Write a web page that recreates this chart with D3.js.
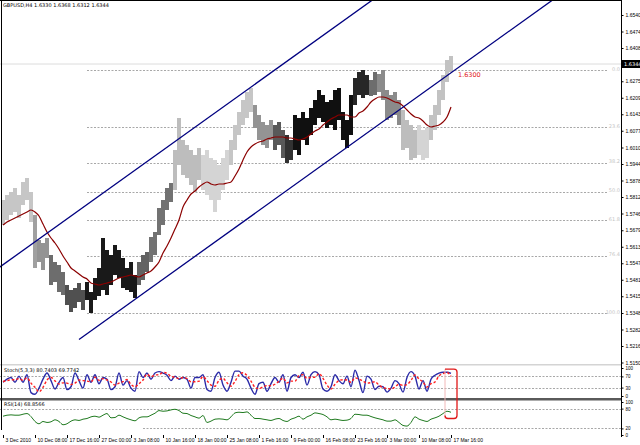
<!DOCTYPE html>
<html><head><meta charset="utf-8">
<script src="https://cdn.jsdelivr.net/npm/d3@7"></script>
<style>html,body{margin:0;padding:0;background:#fff;}svg{display:block;font-family:"DejaVu Sans",sans-serif;}</style>
</head><body><svg id="c" width="640" height="445"></svg>
<script>
// ---- data (H4 bars, each entry = one grouped bar) ----
const high = [1.5800,1.5820,1.5832,1.5848,1.5820,1.5872,1.5888,1.5832,1.5740,1.5640,
1.5628,1.5648,1.5580,1.5552,1.5540,1.5512,1.5460,1.5440,1.5448,1.5468,
1.5440,1.5472,1.5432,1.5488,1.5528,1.5648,1.5600,1.5580,1.5620,1.5600,
1.5568,1.5528,1.5552,1.5500,1.5552,1.5580,1.5592,1.5652,1.5672,1.5768,
1.5800,1.5848,1.5868,1.6000,1.6128,1.6040,1.6020,1.6000,1.5980,1.6008,
1.5980,1.6000,1.5968,1.5960,1.5940,1.5968,1.6000,1.6040,1.6100,1.6152,
1.6200,1.6232,1.6248,1.6180,1.6140,1.6112,1.6100,1.6120,1.6100,1.6112,
1.6080,1.6060,1.6040,1.6140,1.6128,1.6152,1.6128,1.6168,1.6200,1.6240,
1.6220,1.6192,1.6200,1.6240,1.6248,1.6152,1.6120,1.6220,1.6288,1.6312,
1.6320,1.6300,1.6280,1.6312,1.6304,1.6320,1.6240,1.6220,1.6232,1.6200,
1.6160,1.6120,1.6100,1.6080,1.6100,1.6080,1.6088,1.6140,1.6180,1.6240,
1.6300,1.6360,1.6376];
const low = [1.5700,1.5720,1.5740,1.5752,1.5728,1.5780,1.5800,1.5712,1.5528,1.5552,
1.5520,1.5568,1.5460,1.5472,1.5432,1.5420,1.5380,1.5352,1.5368,1.5392,
1.5360,1.5400,1.5348,1.5400,1.5416,1.5440,1.5420,1.5460,1.5500,1.5488,
1.5448,1.5440,1.5432,1.5408,1.5460,1.5480,1.5512,1.5552,1.5580,1.5660,
1.5700,1.5760,1.5792,1.5840,1.5940,1.5900,1.5888,1.5860,1.5832,1.5880,
1.5840,1.5820,1.5800,1.5752,1.5800,1.5840,1.5880,1.5940,1.6000,1.6060,
1.6100,1.6128,1.6152,1.6088,1.6040,1.6020,1.6008,1.6040,1.6000,1.6020,
1.5968,1.5948,1.5960,1.6000,1.5980,1.6040,1.6020,1.6060,1.6100,1.6128,
1.6112,1.6088,1.6100,1.6080,1.6120,1.6040,1.6008,1.6060,1.6180,1.6220,
1.6208,1.6220,1.6216,1.6220,1.6232,1.6200,1.6120,1.6128,1.6140,1.6100,
1.6000,1.6008,1.5960,1.5968,1.5980,1.5960,1.5968,1.6040,1.6080,1.6140,
1.6200,1.6272,1.6312];
const intensity = [13,13,13,13,13,13,13,13,30,35, 35,35,52,52,52,52,65,65,65,65,
65,89,89,89,89,89,89,89,89,89, 89,89,89,89,57,57,57,50,50,50,
50,50,50,17,17,17,17,17,17,17, 7,7,7,7,7,7,7,13,13,13,
13,13,13,35,35,35,35,35,61,61, 61,78,78,93,93,93,93,93,93,93,
93,93,93,93,93,93,93,93,83,83, 83,83,52,52,39,39,39,39,39,39,
17,17,17,17,7,7,7,15,15,15, 15,15,15];
const ma = [1.5700,1.5712,1.5720,1.5728,1.5736,1.5744,1.5752,1.5760,1.5752,1.5736,
1.5704,1.5672,1.5648,1.5628,1.5604,1.5576,1.5552,1.5528,1.5516,1.5504,
1.5492,1.5484,1.5468,1.5464,1.5460,1.5464,1.5468,1.5472,1.5480,1.5488,
1.5492,1.5496,1.5500,1.5496,1.5492,1.5500,1.5508,1.5516,1.5532,1.5552,
1.5588,1.5616,1.5648,1.5684,1.5720,1.5772,1.5800,1.5824,1.5836,1.5852,
1.5864,1.5872,1.5864,1.5860,1.5864,1.5864,1.5868,1.5872,1.5896,1.5924,
1.5960,1.5992,1.6012,1.6024,1.6032,1.6036,1.6044,1.6048,1.6052,1.6052,
1.6052,1.6048,1.6048,1.6044,1.6040,1.6044,1.6052,1.6064,1.6076,1.6084,
1.6100,1.6112,1.6124,1.6132,1.6140,1.6140,1.6140,1.6132,1.6132,1.6148,
1.6156,1.6172,1.6192,1.6204,1.6212,1.6212,1.6208,1.6200,1.6192,1.6188,
1.6176,1.6160,1.6144,1.6132,1.6128,1.6116,1.6100,1.6092,1.6096,1.6100,
1.6112,1.6132,1.6172];
const stochMain = [49,60,66,49,71,49,76,12,6,28, 60,82,55,25,49,66,23,33,82,55,
28,76,49,76,44,66,60,23,33,82, 39,55,28,17,87,66,82,60,82,87,
82,74,55,71,60,66,60,28,66,66, 76,23,17,66,85,39,17,49,89,89,
71,60,28,6,44,49,17,44,66,49, 76,17,66,76,66,85,39,76,87,76,
25,17,33,76,55,44,71,33,92,55, 12,71,60,23,35,33,14,28,55,44,
14,66,87,71,25,55,17,60,74,82, 85,85,80.74];
const stochSignal = [52,55,58,58,62,56,65,46,31,15, 31,57,66,54,43,47,46,41,46,57,
55,53,51,67,56,62,57,50,39,46, 51,59,41,33,44,57,78,69,75,76,
84,81,70,67,62,66,62,51,51,53, 69,55,39,35,56,63,47,35,52,76,
83,73,53,31,26,33,37,37,42,53, 64,47,53,53,73,76,63,67,67,80,
63,39,25,42,55,58,57,49,65,60, 53,46,48,51,39,30,27,25,32,42,
38,41,56,75,61,50,32,44,50,72, 80,84,69.77];
const rsi = [57,60,61,60,60,63,65,56,41,34, 41,38,40,46,41,31,34,42,46,44,
48,50,55,57,54,60,65,52,53,60, 55,50,46,43,52,55,55,60,66,74,
72,73,76,78,74,66,65,59,55,51, 59,38,42,48,49,48,46,55,67,69,
68,70,60,50,50,48,46,44,48,50, 44,41,48,52,57,48,55,60,67,65,
62,55,46,48,46,44,45,50,63,62, 60,60,56,52,49,46,42,42,46,38,
29,27,38,55,48,44,41,48,52,57, 65,72,68.86];
const priceTicks = [1.6540,1.6474,1.6408,1.6341,1.6275,1.6209,1.6143,1.6077,1.6010,1.5944,1.5878,
1.5812,1.5746,1.5679,1.5613,1.5547,1.5481,1.5415,1.5348,1.5282,1.5216,1.5150];
const stochTicks = [0, 30, 70, 100];
const rsiTicks = [0, 20, 80, 100];
const dateTicks = [0,8,16,24,32,40,48,56,64,72,80,88,96,104,112];
const dateLabels = ["3 Dec 2010","10 Dec 08:00","17 Dec 16:00","27 Dec 00:00","3 Jan 08:00","10 Jan 16:00",
"18 Jan 00:00","25 Jan 08:00","1 Feb 16:00","9 Feb 00:00","16 Feb 08:00","23 Feb 16:00","3 Mar 00:00",
"10 Mar 08:00","17 Mar 16:00"];
const fibLevels = [0, 23.6, 38.2, 50, 61.8, 76.4, 100];
const fibLabels = ["0.0","23.6","38.2","50.0","61.8","76.4","100.0"];
const fibHigh = 1.6320, fibLow = 1.5348;
const fibSpan = [21, 151.75];
const lastPrice = 1.6344;
const noteText = "1.6300", notePrice = 1.6300;
const channelUpper = [[0, 1.5541], [60, 1.6229]];
const channelLower = [[19, 1.5242], [100, 1.6171]];
const stochLevels = [30, 70], rsiLevels = [20, 80];
const titleText = "GBPUSD,H4  1.6330 1.6368 1.6312 1.6344";
const stochText = "Stoch(5,3,3) 80.7403 69.7742";
const rsiText = "RSI(14) 68.8566";

// ---- scales ----
const svg = d3.select("#c");
const axisX = 621, mainBottom = 364;
const x = d3.scaleLinear().domain([0, 112]).range([3, 451]);
const y = d3.scaleLinear().domain([1.5144, 1.66]).range([mainBottom, 0]);
const yS = d3.scaleLinear().domain([0, 100]).range([396, 368]);
const yR = d3.scaleLinear().domain([0, 100]).range([435, 402]);
const gray = d3.scaleLinear().domain([0, 100]).range(["#e4e4e4", "#000000"]);
const idx = d3.range(high.length);

svg.append("rect").attr("width", 640).attr("height", 445).attr("fill", "#fff");
svg.append("defs").append("clipPath").attr("id", "mainClip").append("rect")
  .attr("x", 0).attr("y", 0).attr("width", axisX).attr("height", mainBottom);

const main = svg.append("g").attr("clip-path", "url(#mainClip)");

// current price line
main.append("line").attr("x1", 0).attr("x2", axisX)
  .attr("y1", y(lastPrice)).attr("y2", y(lastPrice)).attr("stroke", "#dcdcdc").attr("stroke-width", 1);

// fibonacci levels
const fibPrice = l => fibHigh - (fibHigh - fibLow) * l / 100;
main.selectAll(".fib").data(fibLevels).join("line")
  .attr("x1", x(fibSpan[0])).attr("x2", x(fibSpan[1]) - 2)
  .attr("y1", d => Math.round(y(fibPrice(d))) + 0.5).attr("y2", d => Math.round(y(fibPrice(d))) + 0.5)
  .attr("stroke", "#a8a8a8").attr("stroke-width", 1).attr("stroke-dasharray", "2,1.5");
main.selectAll(".fibt").data(fibLevels).join("text")
  .attr("x", axisX - 1).attr("y", d => y(fibPrice(d)) + 0.5)
  .attr("text-anchor", "end").attr("font-size", 5).attr("fill", "#c4c4c4")
  .text((d, i) => fibLabels[i]);

// bars
main.selectAll(".bar").data(idx).join("rect")
  .attr("x", i => x(i) - 2).attr("width", 4)
  .attr("y", i => y(high[i])).attr("height", i => Math.max(1, y(low[i]) - y(high[i])))
  .attr("fill", i => gray(intensity[i]));

// moving average
main.append("path").datum(idx)
  .attr("d", d3.line().x(i => x(i)).y(i => y(ma[i])).curve(d3.curveMonotoneX))
  .attr("fill", "none").attr("stroke", "#8b0000").attr("stroke-width", 1.2);

// channel lines
function chan(a) {
  const s = (a[1][1] - a[0][1]) / (a[1][0] - a[0][0]);
  const i0 = a[0][0] === 0 ? -2 : a[0][0], i1 = 200;
  return [[x(i0), y(a[0][1] + s * (i0 - a[0][0]))], [x(i1), y(a[0][1] + s * (i1 - a[0][0]))]];
}
[channelUpper, channelLower].forEach(c => {
  const p = chan(c);
  main.append("line").attr("x1", p[0][0]).attr("y1", p[0][1]).attr("x2", p[1][0]).attr("y2", p[1][1])
    .attr("stroke", "#000080").attr("stroke-width", 1.3);
});

// red price note
svg.append("text").attr("x", x(113.75)).attr("y", y(notePrice) + 2)
  .attr("font-size", 6.5).attr("fill", "#e02020").text(noteText);

// title
svg.append("text").attr("x", 3).attr("y", 7).attr("font-size", 5).attr("fill", "#000").text(titleText);

// ---- stochastic panel ----
svg.append("rect").attr("x", 0).attr("y", 364).attr("width", axisX).attr("height", 1.5).attr("fill", "#d4d4d4");
svg.selectAll(".sl").data(stochLevels).join("line")
  .attr("x1", 0).attr("x2", axisX).attr("y1", d => Math.round(yS(d)) + 0.5).attr("y2", d => Math.round(yS(d)) + 0.5)
  .attr("stroke", "#a8a8a8").attr("stroke-dasharray", "2,1.5");
svg.append("path").datum(idx)
  .attr("d", d3.line().x(i => x(i)).y(i => yS(stochMain[i])).curve(d3.curveMonotoneX))
  .attr("fill", "none").attr("stroke", "#2a2aa8").attr("stroke-width", 1.4);
svg.append("path").datum(idx)
  .attr("d", d3.line().x(i => x(i)).y(i => yS(stochSignal[i])).curve(d3.curveMonotoneX))
  .attr("fill", "none").attr("stroke", "#ff2020").attr("stroke-width", 1.4).attr("stroke-dasharray", "2.5,2");
svg.append("text").attr("x", 4).attr("y", 372).attr("font-size", 5).attr("fill", "#000").text(stochText);

// separator
svg.append("rect").attr("x", 0).attr("y", 398).attr("width", axisX).attr("height", 2.5).attr("fill", "#5a5a5a");

// ---- RSI panel ----
svg.append("line").attr("x1", 0).attr("x2", axisX)
  .attr("y1", Math.round(yR(rsiLevels[1])) + 0.5).attr("y2", Math.round(yR(rsiLevels[1])) + 0.5)
  .attr("stroke", "#a8a8a8").attr("stroke-dasharray", "2,1.5");
svg.append("line").attr("x1", x(35)).attr("x2", axisX)
  .attr("y1", Math.round(yR(rsiLevels[0])) + 0.5).attr("y2", Math.round(yR(rsiLevels[0])) + 0.5)
  .attr("stroke", "#a8a8a8").attr("stroke-dasharray", "2,1.5");
svg.append("path").datum(idx)
  .attr("d", d3.line().x(i => x(i)).y(i => yR(rsi[i])).curve(d3.curveMonotoneX))
  .attr("fill", "none").attr("stroke", "#1f7a1f").attr("stroke-width", 1);
svg.append("text").attr("x", 4).attr("y", 406).attr("font-size", 5).attr("fill", "#000").text(rsiText);

// red annotation box
const bx0 = x(110.5), bx1 = x(113.5), by0 = yS(96), by1 = yR(50);
svg.append("line").attr("x1", bx0).attr("x2", bx0).attr("y1", by0).attr("y2", by1)
  .attr("stroke", "#f2b8b8").attr("stroke-width", 1);
svg.append("path")
  .attr("d", `M${bx0},${by0} L${bx1 - 3},${by0} Q${bx1},${by0} ${bx1},${by0 + 3} L${bx1},${by1 - 3} Q${bx1},${by1} ${bx1 - 3},${by1} L${bx0 + 3},${by1} Q${bx0},${by1} ${bx0},${by1 - 3}`)
  .attr("fill", "none").attr("stroke", "#e01818").attr("stroke-width", 1.3);

// ---- frame & axes ----
svg.append("line").attr("x1", 0).attr("x2", axisX).attr("y1", 0.5).attr("y2", 0.5).attr("stroke", "#000");
svg.append("line").attr("x1", 1.5).attr("x2", 1.5).attr("y1", 0).attr("y2", 430).attr("stroke", "#000");
svg.append("line").attr("x1", axisX + 0.5).attr("x2", axisX + 0.5).attr("y1", 0).attr("y2", 437).attr("stroke", "#000");

function styleAxis(g, fs) {
  g.select(".domain").remove();
  g.selectAll("text").attr("font-size", fs).attr("fill", "#000").attr("x", 4);
  g.selectAll("line").attr("stroke", "#000");
}
svg.append("g").attr("transform", `translate(${axisX + 0.5},0)`)
  .call(d3.axisRight(y).tickValues(priceTicks).tickSize(2).tickFormat(d3.format(".4f"))).call(styleAxis, 5);
svg.append("g").attr("transform", `translate(${axisX + 0.5},0)`)
  .call(d3.axisRight(yS).tickValues(stochTicks).tickSize(2)).call(styleAxis, 4.5);
svg.append("g").attr("transform", `translate(${axisX + 0.5},0)`)
  .call(d3.axisRight(yR).tickValues(rsiTicks).tickSize(2)).call(styleAxis, 4.5);

// current price box
svg.append("rect").attr("x", axisX + 1).attr("y", y(lastPrice) - 4).attr("width", 19).attr("height", 8).attr("fill", "#000");
svg.append("text").attr("x", axisX + 3).attr("y", y(lastPrice) + 1.8).attr("font-size", 5).attr("fill", "#fff")
  .text(d3.format(".4f")(lastPrice));

// date axis
const xa = svg.append("g").attr("transform", "translate(0,435)")
  .call(d3.axisBottom(x).tickValues(dateTicks).tickSize(3).tickFormat((d, i) => dateLabels[i]));
xa.select(".domain").remove();
xa.selectAll("line").attr("stroke", "#000");
xa.selectAll("text").attr("font-size", 5).attr("fill", "#000").attr("text-anchor", "start").attr("dx", 2).attr("y", 3);
</script></body></html>
